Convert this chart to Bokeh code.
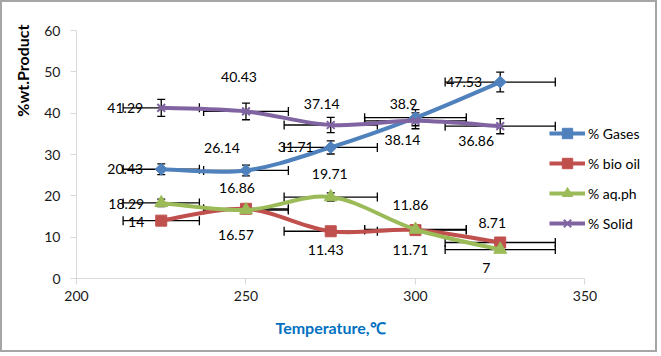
import math
from bokeh.plotting import figure
from bokeh.models import (Range1d, FixedTicker, Whisker, TeeHead, ColumnDataSource,
                          Legend, LegendItem, Title)
from bokeh.core.properties import value
from bokeh.embed import file_html
from bokeh.resources import INLINE

# ---------------- data ----------------
temperature = [225, 250, 275, 300, 325]
gases = [26.43, 26.14, 31.71, 38.9, 47.53]
bio_oil = [14, 16.86, 11.43, 11.71, 8.71]
aq_ph = [18.29, 16.57, 19.71, 11.86, 7]
solid = [41.29, 40.43, 37.14, 38.14, 36.86]

gases_labels = ["20.43", "26.14", "31.71", "38.9", "47.53"]
bio_oil_labels = ["14", "16.86", "11.43", "11.71", "8.71"]
aq_ph_labels = ["18.29", "16.57", "19.71", "11.86", "7"]
solid_labels = ["41.29", "40.43", "37.14", "38.14", "36.86"]

temperature_err = [11.25, 12.5, 13.75, 15, 16.25]
gases_err = [1.32, 1.31, 1.59, 1.95, 2.38]
bio_oil_err = [0.70, 0.84, 0.57, 0.59, 0.44]
aq_ph_err = [0.91, 0.83, 0.99, 0.59, 0.35]
solid_err = [2.06, 2.02, 1.86, 1.91, 1.84]

series_names = ["% Gases", "% bio oil", "% aq.ph", "% Solid"]
x_ticks = [200, 250, 300, 350]
y_ticks = [0, 10, 20, 30, 40, 50, 60]

# ---------------- layout / style (screen offsets of data labels) ----------------
gases_lab_dx = [-36, -24, -35, -12, -36]
gases_lab_dy = [0, -22, 0, -14, 0]
bio_lab_dx = [-25, -9, -5, -5, -8]
bio_lab_dy = [1, -21, 19, 20, -19]
aq_lab_dx = [-35, -10, -1, -5, -14]
aq_lab_dy = [1, 25, -23, -24, 18]
solid_lab_dx = [-36, -7, -9, -13, -24]
solid_lab_dy = [0, -34, -21, 19, 15]

FONT = "Lato"

# frame spans to the right edge so the legend is not clipped; x axis limited by bounds
p = figure(width=657, height=352, output_backend="svg", toolbar_location=None,
           x_range=Range1d(200, 371.4), y_range=Range1d(0, 60),
           min_border_left=74, min_border_right=2, min_border_top=28, min_border_bottom=76)
p.styles = {"border": "2px solid #a6a6a6"}
p.outline_line_color = None
p.xgrid.visible = False
p.ygrid.visible = False
p.background_fill_color = "white"
p.border_fill_color = "white"

for ax, ticks in ((p.xaxis[0], x_ticks), (p.yaxis[0], y_ticks)):
    ax.ticker = FixedTicker(ticks=ticks)
    ax.axis_line_color = "#d9d9d9"
    ax.major_tick_line_color = "#d9d9d9"
    ax.major_tick_out = 6
    ax.major_tick_in = 0
    ax.minor_tick_line_color = None
    ax.major_label_text_font = FONT
    ax.major_label_text_font_size = "14px"
    ax.major_label_text_color = "#1a1a1a"
p.xaxis.bounds = (200, 350)
p.xaxis.major_label_standoff = 6
p.yaxis.major_label_standoff = 10


def smooth(xs, ys):
    n = len(xs)
    x0, y0, x1, y1, cx0, cy0, cx1, cy1 = [], [], [], [], [], [], [], []
    for i in range(n - 1):
        pxm, pym = (xs[i - 1], ys[i - 1]) if i > 0 else (xs[i], ys[i])
        pxp, pyp = (xs[i + 2], ys[i + 2]) if i + 2 < n else (xs[i + 1], ys[i + 1])
        x0.append(xs[i]); y0.append(ys[i])
        x1.append(xs[i + 1]); y1.append(ys[i + 1])
        cx0.append(xs[i] + (xs[i + 1] - pxm) / 6); cy0.append(ys[i] + (ys[i + 1] - pym) / 6)
        cx1.append(xs[i + 1] - (pxp - xs[i]) / 6); cy1.append(ys[i + 1] - (pyp - ys[i]) / 6)
    return dict(x0=x0, y0=y0, x1=x1, y1=y1, cx0=cx0, cy0=cy0, cx1=cx1, cy1=cy1)


specs = [
    (gases, gases_err, gases_labels, gases_lab_dx, gases_lab_dy, "#4F81BD", "square", 8.5, math.pi / 4),
    (bio_oil, bio_oil_err, bio_oil_labels, bio_lab_dx, bio_lab_dy, "#C0504D", "square", 11, 0),
    (aq_ph, aq_ph_err, aq_ph_labels, aq_lab_dx, aq_lab_dy, "#9BBB59", "triangle", 13, 0),
    (solid, solid_err, solid_labels, solid_lab_dx, solid_lab_dy, "#8064A2", "x", 11, 0),
]

legend_items = []
for name, (vals, err, labs, dx, dy, col, mk, sz, ang) in zip(series_names, specs):
    p.bezier(source=ColumnDataSource(smooth(temperature, vals)), x0="x0", y0="y0", x1="x1", y1="y1",
             cx0="cx0", cy0="cy0", cx1="cx1", cy1="cy1", line_color=col, line_width=4)
    key_line = p.line(temperature, vals, line_color=col, line_width=4, visible=False)
    if mk == "x":
        sr = p.scatter(temperature, vals, marker=mk, size=sz, line_color=col, line_width=2)
    else:
        sr = p.scatter(temperature, vals, marker=mk, size=sz, angle=ang,
                       fill_color=col, line_color=col)
    legend_items.append(LegendItem(label=name, renderers=[key_line, sr]))

for name, (vals, err, labs, dx, dy, col, mk, sz, ang) in zip(series_names, specs):
    src = ColumnDataSource(dict(
        x=temperature, y=vals,
        xl=[t - e for t, e in zip(temperature, temperature_err)],
        xu=[t + e for t, e in zip(temperature, temperature_err)],
        yl=[v - e for v, e in zip(vals, err)],
        yu=[v + e for v, e in zip(vals, err)],
        lab=labs, dx=dx, dy=dy))
    p.text(x="x", y="y", text="lab", x_offset="dx", y_offset="dy", source=src,
           text_font=value(FONT), text_font_size="14px", text_color="black",
           text_align="center", text_baseline="middle")
    p.add_layout(Whisker(source=src, base="x", lower="yl", upper="yu", dimension="height",
                         line_color="black", line_width=1.3,
                         upper_head=TeeHead(size=8, line_color="black", line_width=1.3),
                         lower_head=TeeHead(size=8, line_color="black", line_width=1.3)))
    p.add_layout(Whisker(source=src, base="y", lower="xl", upper="xu", dimension="width",
                         line_color="black", line_width=1.3,
                         upper_head=TeeHead(size=9, line_color="black", line_width=1.3),
                         lower_head=TeeHead(size=9, line_color="black", line_width=1.3)))

legend = Legend(items=legend_items, location=(473, 42), orientation="vertical",
                glyph_width=36, glyph_height=26, label_height=26, spacing=4,
                label_standoff=3, padding=0, margin=0,
                border_line_color=None, background_fill_alpha=0,
                inactive_fill_alpha=0,
                label_text_font=FONT, label_text_font_size="14px", label_text_color="black")
p.add_layout(legend)

p.add_layout(Title(text="Temperature,℃", align="left", offset=199, standoff=24, text_font=FONT,
                   text_font_size="16px", text_font_style="bold", text_color="#0070C0"), "below")
p.add_layout(Title(text="%wt.Product", align="right", offset=-6, standoff=15, vertical_align="top",
                   text_font=FONT, text_font_size="16px", text_font_style="bold",
                   text_color="black"), "left")

open("out.html", "w").write(file_html(p, INLINE))
